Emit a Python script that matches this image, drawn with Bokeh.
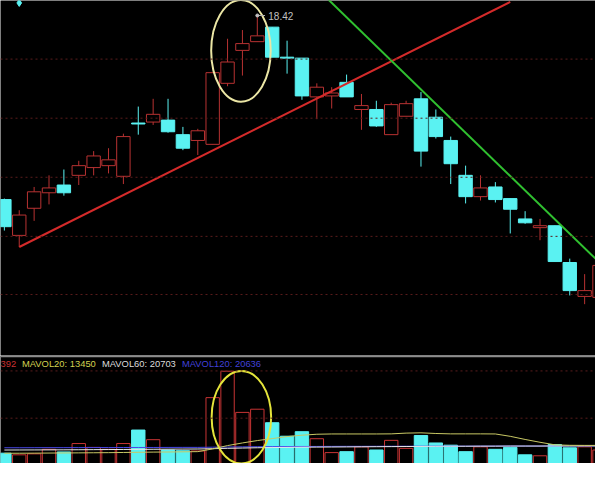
import numpy as np
from bokeh.plotting import figure
from bokeh.layouts import column
from bokeh.models import Range1d, Span, Label
from bokeh.embed import file_html
from bokeh.resources import INLINE

# ---------------- data ----------------
opens = [16.52, 16.15, 16.43, 16.59, 16.67, 16.77, 16.85, 16.87, 16.76, 17.31, 17.32, 17.34, 17.19, 17.13,
         17.09, 17.72, 18.06, 18.15, 18.30, 17.99, 17.98, 17.58, 17.59, 17.73, 17.45, 17.45, 17.19, 17.38,
         17.56, 17.37, 17.13, 16.77, 16.55, 16.65, 16.53, 16.32, 16.23, 16.25, 15.87, 15.52, 15.51]
closes = [16.24, 16.36, 16.60, 16.64, 16.59, 16.87, 16.97, 16.93, 17.17, 17.30, 17.40, 17.22, 17.05, 17.23,
          17.83, 17.94, 18.13, 18.21, 17.99, 17.98, 17.59, 17.68, 17.62, 17.58, 17.49, 17.28, 17.50, 17.51,
          17.02, 17.17, 16.89, 16.55, 16.64, 16.52, 16.42, 16.28, 16.25, 15.88, 15.58, 15.58, 15.84]
highs = [16.53, 16.41, 16.65, 16.77, 16.83, 16.92, 17.02, 17.05, 17.20, 17.48, 17.56, 17.56, 17.27, 17.25,
         17.83, 18.18, 18.27, 18.42, 18.30, 18.16, 17.98, 17.72, 17.68, 17.81, 17.61, 17.54, 17.52, 17.54,
         17.63, 17.45, 17.17, 16.87, 16.77, 16.70, 16.53, 16.40, 16.32, 16.25, 15.91, 15.75, 15.86]
lows = [16.20, 16.03, 16.30, 16.47, 16.56, 16.67, 16.77, 16.79, 16.68, 17.19, 17.29, 17.21, 17.03, 16.98,
        17.09, 17.69, 17.80, 18.15, 17.99, 17.82, 17.55, 17.35, 17.46, 17.58, 17.24, 17.27, 17.19, 17.38,
        16.86, 17.15, 16.68, 16.48, 16.51, 16.49, 16.17, 16.27, 16.10, 15.88, 15.53, 15.44, 15.48]
volumes = [12960, 11220, 12250, 17040, 14290, 23160, 19080, 17040, 23160, 37450, 27240, 16330, 15610, 15300,
           71730, 99690, 56120, 59490, 45200, 30920, 35710, 28270, 13570, 14590, 19690, 16330, 26530, 18060,
           31630, 23780, 21430, 14590, 19690, 17040, 19080, 11220, 10200, 22140, 18670, 19690, 16330]
mavol20 = [12900, 12900, 13000, 13100, 13200, 13300, 13400, 13500, 13700, 13900, 14100, 14200, 14400, 14600,
           17500, 21000, 23800, 26300, 28400, 30500, 32000, 33000, 33300, 33300, 33300, 33300, 33400, 34200,
           34500, 33800, 33400, 33400, 33400, 33300, 30800, 27500, 24500, 21800, 21300, 21200, 21200]
mavol60 = [16300, 16350, 16400, 16450, 16500, 16600, 16700, 16800, 16900, 17000, 17100, 17200, 17300, 17400,
           17700, 18100, 18400, 18700, 18900, 19100, 19300, 19400, 19500, 19600, 19700, 19800, 19900, 20000,
           20100, 20200, 20300, 20300, 20400, 20400, 20500, 20500, 20500, 20600, 20600, 20700, 20700]
mavol120 = [18700, 18700, 18750, 18800, 18800, 18850, 18900, 18900, 18950, 19000, 19000, 19050, 19100, 19100,
            19300, 19500, 19650, 19800, 19900, 20000, 20050, 20100, 20150, 20200, 20200, 20250, 20300, 20300,
            20350, 20400, 20400, 20400, 20450, 20450, 20500, 20500, 20500, 20550, 20550, 20600, 20600]

price_grid = [17.97, 17.36, 16.75, 16.14, 15.54]
vol_grid = [50000, 100000]

support_x = [1, 34]
support_y = [16.03, 18.56]
resist_x = [21, 41]
resist_y = [18.70, 15.72]

price_ellipse = dict(x=15.9, y=18.055, w=4.0, h=1.05)
vol_ellipse = dict(x=15.93, y=51000, w=4.0, h=98000)

marker_idx = [1]
marker_price = [18.55]

peak_label = "18.42"
legend_texts = ["392", "MAVOL20: 13450", "MAVOL60: 20703", "MAVOL120: 20636"]
legend_colors = ["#c83232", "#d2d250", "#dcdcdc", "#4040d8"]

# ---------------- derived ----------------
o = np.array(opens); c = np.array(closes); h = np.array(highs); l = np.array(lows)
v = np.array(volumes)
idx = np.arange(len(o))
up = c >= o
dn = ~up
top = np.maximum(o, c)
bot = np.minimum(o, c)

RED = "#b83232"
VRED = "#c83434"
CYAN = "#5af2f2"
BW = 0.9

common = dict(output_backend="svg", toolbar_location=None, min_border=0,
              background_fill_color="black", border_fill_color="black",
              outline_line_color=None, x_axis_location=None, y_axis_location=None)

x_range = Range1d(-0.26, 39.73)
p1 = figure(width=595, height=355, x_range=x_range, y_range=Range1d(14.91, 18.575), **common)
p1.grid.visible = False

for g in price_grid:
    p1.add_layout(Span(location=g, dimension="width", line_color="#5a1c1c", line_width=1, line_dash="2 3"))

# wicks
p1.segment(x0=idx[up], y0=h[up], x1=idx[up], y1=l[up], line_color=RED, line_width=1)
p1.segment(x0=idx[dn], y0=h[dn], x1=idx[dn], y1=l[dn], line_color=CYAN, line_width=1)
# bodies
p1.vbar(x=idx[up], width=BW, top=top[up], bottom=bot[up], fill_color="black", line_color=RED, line_width=1)
p1.vbar(x=idx[dn], width=BW, top=top[dn], bottom=bot[dn], fill_color=CYAN, line_color=CYAN, line_width=1)

# trend lines
p1.line(support_x, support_y, line_color="#d42a2a", line_width=2)
p1.line(resist_x, resist_y, line_color="#30c030", line_width=2)

# ellipse
p1.ellipse(x=[price_ellipse["x"]], y=[price_ellipse["y"]], width=[price_ellipse["w"]],
           height=[price_ellipse["h"]], fill_color=None, line_color="#ebe6a5", line_width=2)

# top-left marker
p1.scatter(marker_idx, marker_price, marker="diamond", size=7, color=CYAN)

# peak label
hi = int(np.argmax(h))
p1.segment(x0=[hi], y0=[h[hi]], x1=[hi + 0.52], y1=[h[hi]], line_color="#b0b0b0", line_width=1)
p1.scatter([hi], [h[hi]], size=3, color="#c0c0c0")
p1.add_layout(Label(x=hi, y=h[hi], x_offset=11, text=peak_label, text_font_size="10px",
                    text_color="#c0c0c0", text_baseline="middle", text_font="Liberation Sans"))

# ---------------- volume panel ----------------
p2 = figure(width=595, height=108, x_range=x_range, y_range=Range1d(2040, 116330), **common)
p2.grid.visible = False
for g in vol_grid:
    p2.add_layout(Span(location=g, dimension="width", line_color="#5a1c1c", line_width=1, line_dash="2 3"))
p2.add_layout(Span(location=115300, dimension="width", line_color="#8c8c8c", line_width=1.5))

p2.vbar(x=idx[up], width=BW, top=v[up], bottom=0, fill_color="black", line_color=VRED, line_width=1)
p2.vbar(x=idx[dn], width=BW, top=v[dn], bottom=0, fill_color=CYAN, line_color=CYAN, line_width=1)

p2.line(idx, mavol120, line_color="#4848e8", line_width=1)
p2.line(idx, mavol60, line_color="#e6e6e6", line_width=1)
p2.line(idx, mavol20, line_color="#c8c864", line_width=1)

p2.ellipse(x=[vol_ellipse["x"]], y=[vol_ellipse["y"]], width=[vol_ellipse["w"]],
           height=[vol_ellipse["h"]], fill_color=None, line_color="#e4e43a", line_width=2)

legend_x = [0, 21.5, 101.5, 181.5]
for t, col, xx in zip(legend_texts, legend_colors, legend_x):
    p2.add_layout(Label(x=xx, y=100, x_units="screen", y_units="screen", text=t,
                        text_font_size="9.4px", text_color=col, text_baseline="middle",
                        text_font="Liberation Sans"))

layout = column(p1, p2, spacing=0)
open("out.html", "w").write(file_html(layout, INLINE))
